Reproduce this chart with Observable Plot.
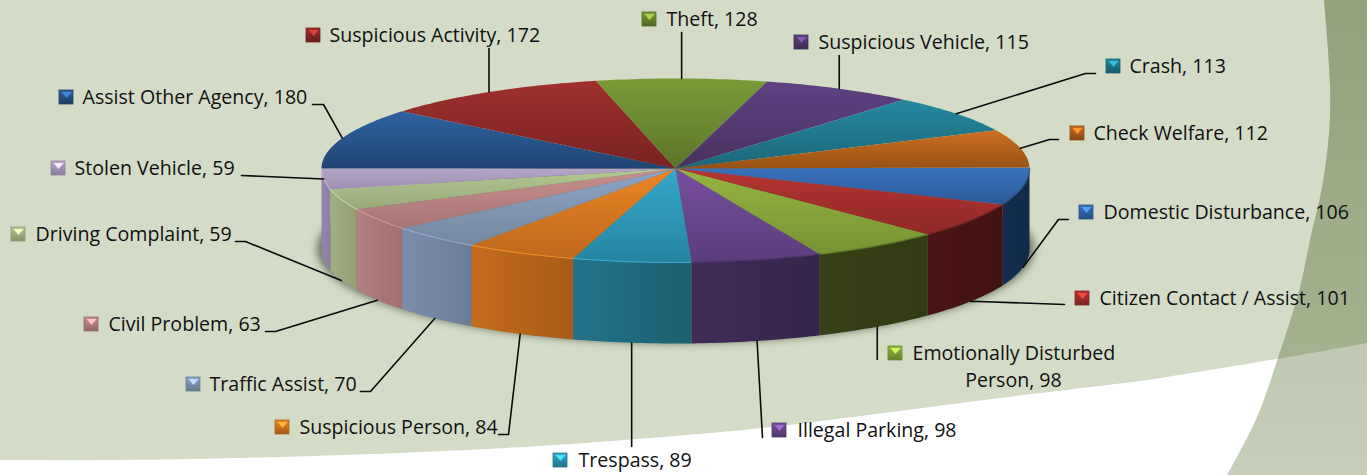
<!DOCTYPE html>
<html>
<head>
<meta charset="utf-8">
<style>html,body{margin:0;padding:0;background:#fff;overflow:hidden}</style>
<script src="https://cdn.jsdelivr.net/npm/d3@7"></script>
<script src="https://cdn.jsdelivr.net/npm/@observablehq/plot@0.6"></script>
</head>
<body>
<div id="chart"></div>
<script>
// ---- data, clockwise from 3 o'clock ----
const categories = ["Domestic Disturbance","Citizen Contact / Assist","Emotionally Disturbed Person","Illegal Parking","Trespass","Suspicious Person","Traffic Assist","Civil Problem","Driving Complaint","Stolen Vehicle","Assist Other Agency","Suspicious Activity","Theft","Suspicious Vehicle","Crash","Check Welfare"];
const values = [106,101,98,98,89,84,70,63,59,59,180,172,128,115,113,112];

// ---- colours ----
const topLight = ["#3b72bd","#b53431","#95b540","#774f9e","#35a8c9","#ec8626","#8ba3c8","#c88f8e","#b4c891","#b6a7c9","#2f62a0","#a0302d","#7a9c37","#5f4283","#25899f","#cc6f1f"];
const topDark  = ["#2c5a99","#8f2927","#779334","#5b3d7b","#2585a0","#be681b","#74899f","#a67675","#98aa7a","#9c8eb0","#1f4573","#782322","#5b7529","#48315f","#1c6678","#985215"];
const wallLeft  = ["#142e50","#4b1515","#373f16","#412c59","#237489","#c46c1c","#7c8eae","#b18180","#a1ae82","#9286aa","#000","#000","#000","#000","#000","#000"];
const wallRight = ["#122a49","#421212","#333b14","#36254b","#1c5f71","#a95c17","#6a7c96","#a07170","#929f74","#8b80a3","#000","#000","#000","#000","#000","#000"];

// ---- label layout: text start, centre line, key start, leader elbow and end ----
const labelX  = [1103,1099,912,797,578,299,209,108,35,74,82,329,666,818,1129,1093];
const labelY  = [212,298,353,430,460,427,384,324,234,168,97,35,19,42,66,133];
const keyX    = [1079,1075,888,772,553,275,186,84,11,51,59,306,642,794,1106,1070];
const leaderElbow = [[1058,219],[978,301],null,null,null,[508,434],[370,391],[275,331],[245,241],null,[323,104],null,null,null,[1085,73],[1049,139]];
const leaderEnd   = [[1068,219],[1064,304],[null,359],[762,437],[null,446],[498,434],[360,391],[265,331],[235,241],[241,175],[312,104],[null,48],[null,32],[null,55],[1095,73],[1058,139]];
const labelText = categories.map((c,i)=> i===2 ? "Emotionally Disturbed" : `${c}, ${values[i]}`);

// ---- page background shapes ----
const paleEdge = [[0,460],[120,460],[240,458],[400,453],[540,446],[650,438],[762,428],[900,411],[1000,398],[1140,381],[1167,377],[1277,359],[1367,343]];
const bandEdge = [[0,1324],[83,1330],[133,1329],[187,1322],[240,1310],[287,1300],[358,1278],[417,1257],[475,1227]];

// ---- pie geometry ----
const cx=675, cy=168, rx=354, ryTop=90, ryBottom=94, depth=81, startDeg=-0.7;
const total=d3.sum(values);
const rad=Math.PI/180;
const px=a=>cx+rx*Math.cos(a*rad);
const py=(a,dz=0)=>{const s=Math.sin(a*rad);return cy+(s>0?ryBottom:ryTop)*s+dz;};
const cum=[0,...d3.cumsum(values)];
const ang=v=>startDeg+v/total*360;
const slices=values.map((v,i)=>({i,a0:ang(cum[i]),a1:ang(cum[i+1]),mid:ang(cum[i]+v/2)}));
const arc=(a0,a1,dz=0)=>{const n=Math.max(2,Math.ceil(Math.abs(a1-a0)));return d3.range(n+1).map(k=>{const a=a0+(a1-a0)*k/n;return {x:px(a),y:py(a,dz)};});};
const topPoly=s=>[{x:cx,y:cy},...arc(s.a0,s.a1)];
const wallPoly=s=>{const a0=Math.max(0,s.a0),a1=Math.min(180,s.a1);return a1<=a0?null:[...arc(a0,a1),...arc(a1,a0,depth)];};
const anchor=s=>{const front=Math.sin(s.mid*rad)>0&&s.i<9;return [px(s.mid),py(s.mid,front?depth:0)];};

function defs(){
  const g=d3.create("svg:g");
  const d=g.append("defs");
  const lg=(id,stops,horizontal)=>{
    const e=d.append("linearGradient").attr("id",id).attr("x1",0).attr("y1",0).attr("x2",horizontal?1:0).attr("y2",horizontal?0:1);
    stops.forEach(([o,c])=>e.append("stop").attr("offset",o).attr("stop-color",c));
  };
  values.forEach((_,i)=>{
    lg("top"+i,[[0,topLight[i]],[1,topDark[i]]]);
    lg("wall"+i,[[0,wallLeft[i]],[1,wallRight[i]]],true);
    lg("key"+i,[[0,topLight[i]],[1,d3.color(topDark[i]).darker(0.4).formatHex()]]);
  });
  lg("band",[[0,"#93a27b"],[0.72,"#a4b18f"],[1,"#b0bb9d"]]);
  return g.node();
}

const xy={x:"x",y:"y"};
const font={fill:"#111",fontSize:19.6,fontFamily:"'Open Sans'",lineAnchor:"middle"};
const marks=[
  defs,
  Plot.areaY(paleEdge,{x:d=>d[0],y1:0,y2:d=>d[1],fill:"#d4dcc7",curve:"catmull-rom"}),
  Plot.areaX(bandEdge,{y:d=>d[0],x1:d=>d[1],x2:1367,fill:"url(#band)",curve:"catmull-rom"}),
  Plot.areaY(paleEdge,{x:d=>d[0],y1:d=>d[1],y2:475,fill:"#fff",fillOpacity:0.3,curve:"catmull-rom"}),
  // soft shadow
  Plot.line(arc(0,360,depth-1).map(p=>({x:cx+(p.x-cx)*1.012,y:p.y})),{...xy,fill:"#666d5c",stroke:"none",imageFilter:"blur(4px)"}),
  // walls
  ...slices.filter(wallPoly).map(s=>Plot.line(wallPoly(s),{...xy,fill:`url(#wall${s.i})`,stroke:"none"})),
  // top faces
  ...slices.map(s=>Plot.line(topPoly(s),{...xy,fill:`url(#top${s.i})`,stroke:"none"})),
  // rim highlight
  ...slices.filter(s=>s.i>=4&&s.i<10).map(s=>Plot.line(arc(s.a0,Math.min(180,s.a1)),{...xy,stroke:d3.color(topLight[s.i]).brighter(0.3).formatHex(),strokeWidth:1.2,strokeOpacity:.75})),
  ...slices.filter(s=>s.i<4).map(s=>Plot.line(arc(Math.max(0,s.a0),s.a1),{...xy,stroke:d3.color(topDark[s.i]).darker(0.6).formatHex(),strokeWidth:1.6,strokeOpacity:.7})),
  // leaders
  ...slices.map(s=>{
    const a=anchor(s), e=leaderEnd[s.i], el=leaderElbow[s.i];
    const end=[e[0]===null?a[0]:e[0],e[1]];
    const pts=el?[a,el,end]:[a,end];
    return Plot.line(pts,{x:d=>d[0],y:d=>d[1],stroke:"#0b0b0b",strokeWidth:1.6});
  }),
  // legend keys
  ...values.map((_,i)=>Plot.rect([i],{x1:keyX[i],x2:keyX[i]+14,y1:labelY[i]-7,y2:labelY[i]+7,fill:`url(#key${i})`,stroke:d3.color(topDark[i]).darker(0.2).formatHex(),strokeWidth:0.8})),
  ...values.map((_,i)=>Plot.line([[keyX[i]+2,labelY[i]-5.5],[keyX[i]+12,labelY[i]-5.5],[keyX[i]+7,labelY[i]+0.5]],{x:d=>d[0],y:d=>d[1],fill:d3.color(topLight[i]).brighter(0.9).formatHex(),stroke:"none"})),
  // labels
  Plot.text(values.map((_,i)=>i),{x:i=>labelX[i],y:i=>labelY[i],text:i=>labelText[i],textAnchor:"start",...font}),
  Plot.text([`Person, ${values[2]}`],{x:1013,y:380,text:d=>d,textAnchor:"middle",...font})
];

const chart=Plot.plot({
  width:1367,height:475,margin:0,
  x:{domain:[0,1367],range:[0,1367],axis:null},
  y:{domain:[0,475],range:[0,475],axis:null},
  style:{background:"#fff",fontFamily:"'Open Sans'",display:"block"},
  marks
});
document.getElementById("chart").append(chart);
</script>
</body>
</html>
